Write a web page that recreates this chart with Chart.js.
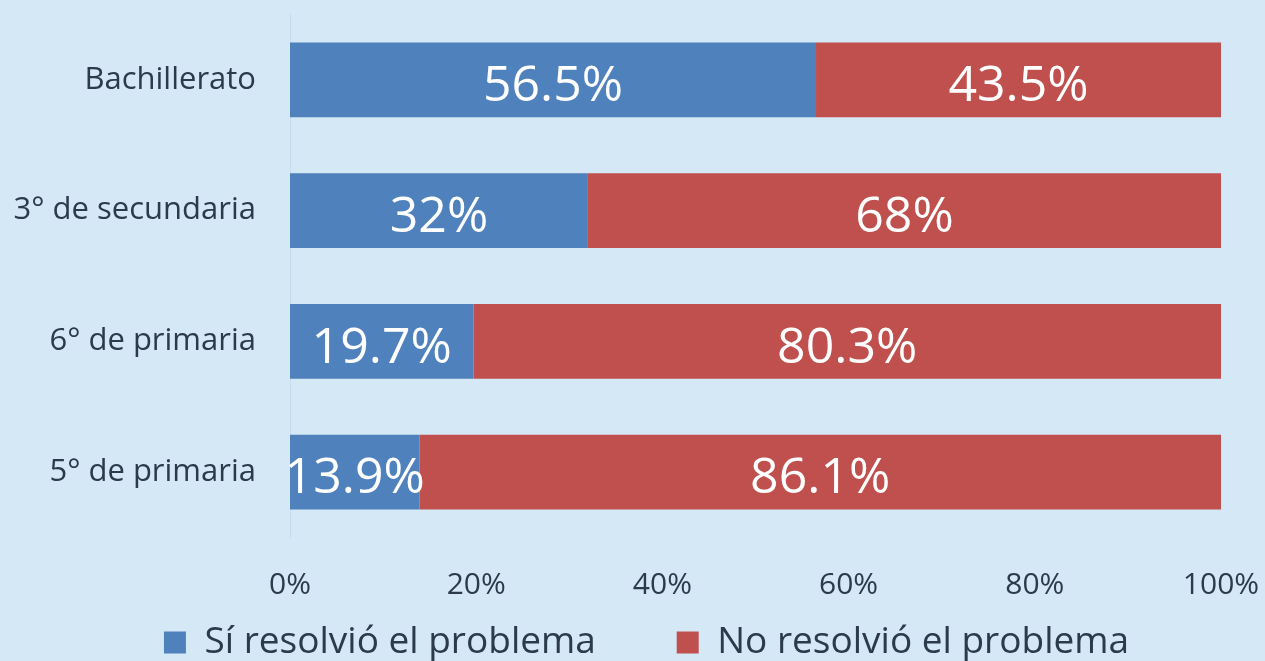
<!DOCTYPE html>
<html>
<head>
<meta charset="utf-8">
<script src="https://cdn.jsdelivr.net/npm/chart.js@4.4.0/dist/chart.umd.min.js"></script>
<style>
  html, body { margin: 0; padding: 0; background: #d5e8f6; }
  #wrap { width: 1265px; height: 661px; }
</style>
</head>
<body>
<div id="wrap"><canvas id="chart"></canvas></div>
<script>
        // Data
        const categories = ['Bachillerato', '3° de secundaria', '6° de primaria', '5° de primaria'];
        const siResolvio = [56.5, 32, 19.7, 13.9];
        const noResolvio = [43.5, 68, 80.3, 86.1];
        const seriesNames = ['Sí resolvió el problema', 'No resolvió el problema'];
        const tickValues = [0, 20, 40, 60, 80, 100];

        const textColor = '#2b3b4c';

        // Draw the percentage inside each bar segment
        const barLabels = {
            id: 'barLabels',
            afterDatasetsDraw(chart) {
                const ctx = chart.ctx;
                ctx.save();
                ctx.fillStyle = '#ffffff';
                ctx.font = '50px "Open Sans"';
                ctx.textAlign = 'center';
                ctx.textBaseline = 'middle';
                chart.data.datasets.forEach((ds, i) => {
                    const meta = chart.getDatasetMeta(i);
                    meta.data.forEach((bar, j) => {
                        const cx = (bar.x + bar.base) / 2;
                        ctx.fillText(ds.data[j] + '%', cx, bar.y + 7);
                    });
                });
                ctx.restore();
            }
        };

        // Legend in the original sits a little right of centre
        const shiftLegend = {
            id: 'shiftLegend',
            afterLayout(chart) {
                chart.legend.left += 14;
                chart.legend.right += 14;
            }
        };

        const chart = new Chart(document.getElementById('chart'), {
            type: 'bar',
            data: {
                labels: categories,
                datasets: [{
                    label: seriesNames[0],
                    data: siResolvio,
                    backgroundColor: '#4f81bd',
                    categoryPercentage: 1,
                    barPercentage: 0.57
                }, {
                    label: seriesNames[1],
                    data: noResolvio,
                    backgroundColor: '#c0504d',
                    categoryPercentage: 1,
                    barPercentage: 0.57
                }]
            },
            options: {
                indexAxis: 'y',
                responsive: true,
                maintainAspectRatio: false,
                animation: false,
                layout: {
                    padding: { top: 14.5, right: 0, left: 0, bottom: -10 }
                },
                scales: {
                    x: {
                        stacked: true,
                        min: 0,
                        max: 100,
                        afterBuildTicks: (axis) => {
                            axis.ticks = tickValues.map(v => ({ value: v }));
                        },
                        afterFit: (axis) => {
                            axis.height = 82.5;
                            axis.paddingLeft = 0;
                            axis.paddingRight = 44;
                        },
                        grid: { display: false, drawTicks: false },
                        border: { display: false },
                        ticks: {
                            padding: 29.5,
                            color: textColor,
                            font: { family: 'Open Sans', size: 30 },
                            maxRotation: 0,
                            callback: (v) => v + '%'
                        }
                    },
                    y: {
                        stacked: true,
                        afterFit: (axis) => {
                            axis.width = 290;
                            axis.paddingTop = 0;
                            axis.paddingBottom = 0;
                        },
                        grid: { display: false, drawTicks: false },
                        border: { display: true, color: '#c6dcee', width: 1 },
                        ticks: {
                            padding: 34,
                            color: textColor,
                            font: { family: 'Open Sans', size: 31 }
                        }
                    }
                },
                plugins: {
                    tooltip: { enabled: false },
                    legend: {
                        position: 'bottom',
                        labels: {
                            color: textColor,
                            font: { family: 'Open Sans', size: 37 },
                            boxWidth: 22,
                            boxHeight: 22,
                            padding: 4,
                            generateLabels: (chart) => {
                                const items = Chart.defaults.plugins.legend.labels.generateLabels(chart);
                                // widen the gap between the two entries
                                items[0].text = items[0].text + '        ';
                                return items;
                            }
                        }
                    }
                }
            },
            plugins: [barLabels, shiftLegend]
        });
</script>
</body>
</html>
